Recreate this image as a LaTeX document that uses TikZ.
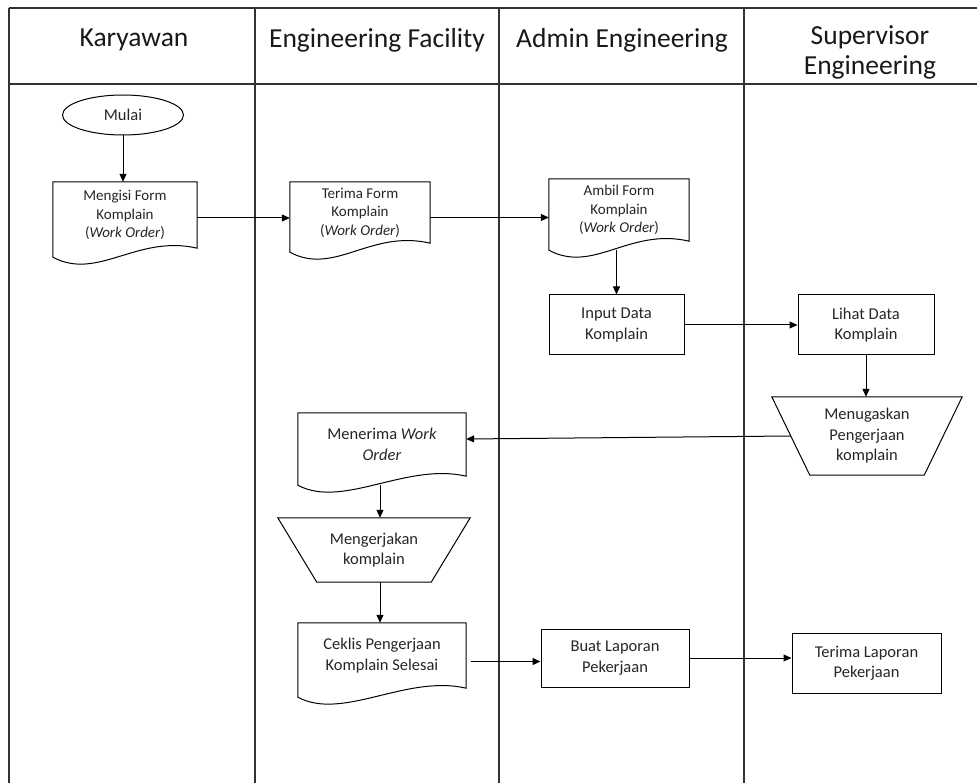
\documentclass[tikz,border=0pt]{standalone}
\usepackage{fontspec}
\setmainfont{Carlito}
\usetikzlibrary{arrows.meta,shapes.geometric,calc}
\newcommand\docoutline[1]{\draw[docline] (#1.north west) -- ($(#1.south west)+(0,9)$) .. controls +(45,24) and +(-60,-14) .. (#1.south east) -- (#1.north east) -- cycle;}
\newcommand\trapoutline[2]{\draw[docline] (#1.north west) -- (#1.north east) -- ($(#1.south east)+(-#2,0)$) -- ($(#1.south west)+(#2,0)$) -- cycle;}
\begin{document}
\begin{tikzpicture}[x=1pt,y=-1pt,
  lane/.style={line width=1.4pt,draw=black!80},
  base/.style={inner sep=0pt,align=center,text=black!85,font=\fontsize{16.5}{20.5}\selectfont},
  small/.style={font=\fontsize{15}{18.5}\selectfont},
  procbox/.style={base,draw,line width=1pt,rectangle},
  docline/.style={draw,line width=1pt},
  arr/.style={line width=1pt,-{Triangle[length=8pt,width=7pt]}},
  head/.style={font=\fontsize{27.5}{30}\selectfont,align=center,text=black!90,inner sep=0pt}
]
\useasboundingbox (0,0) rectangle (977,783);
\fill[white] (0,0) rectangle (977,783);
% lanes
\draw[lane] (9,8) -- (977,8);
\draw[lane] (9,84) -- (977,84);
\draw[lane] (9,8) -- (9,783);
\foreach \xx in {255,499,744} \draw[lane] (\xx,8) -- (\xx,783);
% headers
\node[head] (h1) at (134,40) {Karyawan};
\node[head] (h2) at (377,40) {Engineering Facility};
\node[head] (h3) at (622,40) {Admin Engineering};
\node[head] (h4) at (870,52) {Supervisor\\Engineering};
% nodes
\node[base,draw,ellipse,line width=1pt,minimum width=121pt,minimum height=40pt] (mulai) at (123,115) {Mulai};
\node[base,small,minimum width=144pt,minimum height=66pt] (mengisi) at (125,215) {Mengisi Form\\Komplain\\(\textit{Work Order})};
\docoutline{mengisi}
\node[base,small,minimum width=140pt,minimum height=61pt] (terima) at (360,212.5) {Terima Form\\Komplain\\(\textit{Work Order})};
\docoutline{terima}
\node[base,small,minimum width=140pt,minimum height=62pt] (ambil) at (619,210) {Ambil Form\\Komplain\\(\textit{Work Order})};
\docoutline{ambil}
\node[procbox,minimum width=135pt,minimum height=60pt] (input) at (616.5,325) {Input Data\\Komplain};
\node[procbox,minimum width=136pt,minimum height=60pt] (lihat) at (866,325) {Lihat Data\\Komplain};
\node[base,minimum width=190pt,minimum height=78pt] (menu) at (867,436) {Menugaskan\\Pengerjaan\\komplain};
\trapoutline{menu}{38}
\node[base,minimum width=168pt,minimum height=63pt] (menerima) at (382,444.5) {Menerima \textit{Work}\\\textit{Order}};
\docoutline{menerima}
\node[base,minimum width=192pt,minimum height=64pt] (kerja) at (374,550) {Mengerjakan\\komplain};
\trapoutline{kerja}{39}
\node[base,minimum width=168pt,minimum height=65pt] (ceklis) at (382,655.5) {Ceklis Pengerjaan\\Komplain Selesai};
\docoutline{ceklis}
\node[procbox,minimum width=148pt,minimum height=58pt] (buat) at (615,658) {Buat Laporan\\Pekerjaan};
\node[procbox,minimum width=149pt,minimum height=60pt] (terlap) at (866.5,663) {Terima Laporan\\Pekerjaan};
% connectors
\draw[arr] (mulai.south) -- (mulai.south |- mengisi.north);
\draw[arr] ($(mengisi.east)+(0,3)$) -- ($(terima.west)+(0,5.5)$);
\draw[arr] ($(terima.east)+(0,5)$) -- ($(ambil.west)+(0,7.5)$);
\coordinate (ambilout) at ($(ambil.south)+(0,9)$);
\draw[arr] (input.north |- ambilout) -- (input.north);
\draw[arr] (input.east) -- (input.east -| lihat.west);
\draw[arr] (lihat.south) -- (lihat.south |- menu.north);
\draw[arr] ($(menu.west)+(19,0)$) -- ($(menerima.east)+(0,-5.5)$);
\coordinate (menout) at ($(menerima.south)+(-2,9)$);
\draw[arr] (menout) -- (menout |- kerja.north);
\draw[arr] (menout |- kerja.south) -- (menout |- ceklis.north);
\coordinate (cekout) at ($(ceklis.east)+(5,6)$);
\draw[arr] (cekout) -- (cekout -| buat.west);
\draw[arr] (buat.east) -- (buat.east -| terlap.west);
\end{tikzpicture}
\end{document}
